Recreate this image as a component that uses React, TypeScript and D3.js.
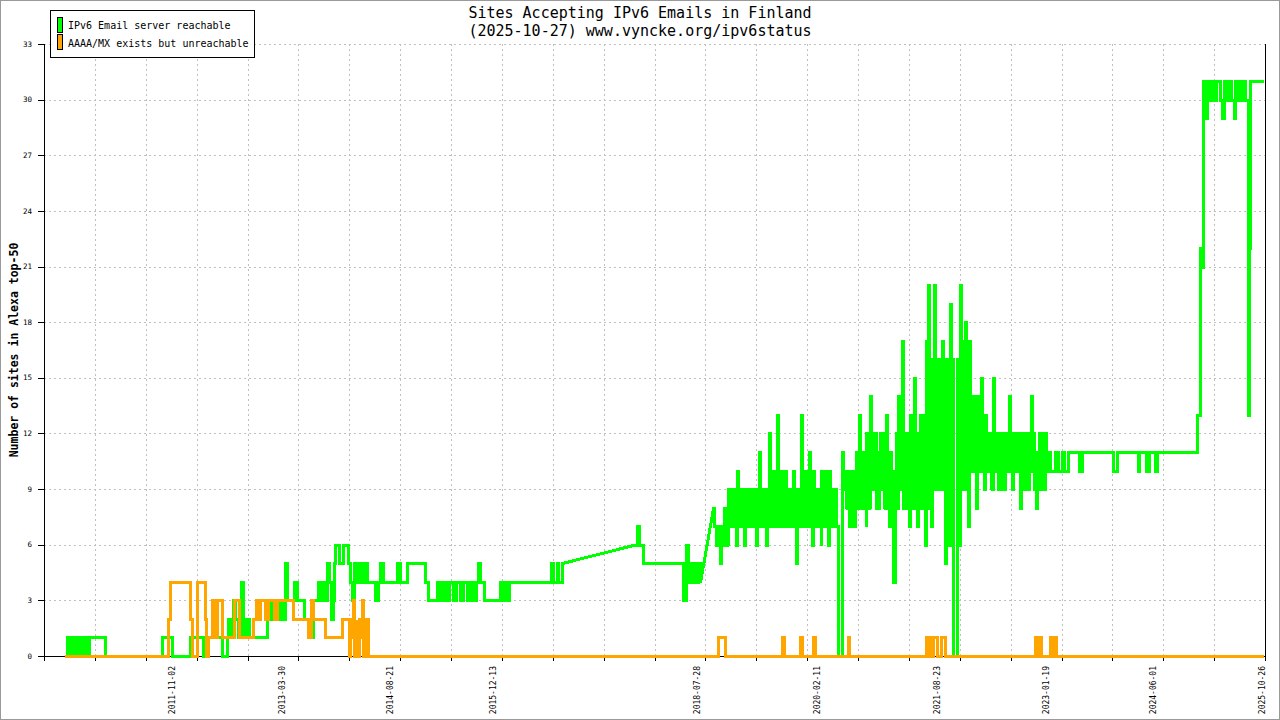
import React from "react";
import * as d3 from "d3";

// readings as [fractional year, sites]; a value holds until the next reading
const greenEarly: [number, number][] = [
  [2010.45, 0], [2010.49, 1], [2010.53, 0], [2010.56, 1], [2010.6, 0], [2010.62, 1], [2010.66, 0],
  [2010.68, 1], [2010.71, 0], [2010.73, 1], [2010.75, 0], [2010.77, 1], [2010.98, 0],
  [2011.71, 1], [2011.84, 0],
  [2012.07, 1], [2012.23, 0], [2012.27, 1], [2012.48, 0], [2012.54, 1], [2012.55, 2], [2012.59, 1],
  [2012.62, 3], [2012.64, 2], [2012.68, 1], [2012.72, 4], [2012.75, 1], [2012.785, 2], [2012.82, 1],
  [2013.055, 2], [2013.09, 3], [2013.13, 2], [2013.17, 3], [2013.21, 2], [2013.25, 3], [2013.27, 2],
  [2013.285, 5], [2013.31, 3], [2013.4, 4], [2013.44, 3], [2013.52, 2], [2013.58, 1], [2013.64, 3],
  [2013.71, 4], [2013.745, 3], [2013.77, 4], [2013.8, 3], [2013.82, 5], [2013.85, 4], [2013.87, 2],
  [2013.9, 3], [2013.91, 5], [2013.93, 6], [2013.97, 5],
  [2014.03, 6], [2014.09, 5], [2014.12, 4], [2014.145, 3], [2014.17, 5], [2014.21, 4], [2014.235, 5],
  [2014.275, 4], [2014.3, 5], [2014.34, 4], [2014.44, 3], [2014.48, 4], [2014.505, 5], [2014.545, 4],
  [2014.72, 5], [2014.76, 4], [2014.85, 5],
  [2015.08, 4], [2015.12, 3], [2015.235, 4], [2015.275, 3], [2015.31, 4], [2015.35, 3], [2015.39, 4],
  [2015.44, 3], [2015.48, 4], [2015.53, 3], [2015.57, 4], [2015.62, 3], [2015.66, 4], [2015.7, 3],
  [2015.73, 4], [2015.76, 5], [2015.79, 4], [2015.83, 3],
  [2016.04, 4], [2016.08, 3], [2016.11, 4], [2016.135, 3], [2016.16, 4], [2016.69, 5], [2016.725, 4],
  [2016.765, 5], [2016.79, 4], [2016.84, 5],
];

const greenMid: [number, number][] = [
  [2017.75, 6], [2017.8, 7], [2017.825, 6], [2017.877, 5],
  [2018.39, 3], [2018.43, 6], [2018.455, 4], [2018.48, 5], [2018.505, 4], [2018.53, 5], [2018.56, 4],
  [2018.58, 5], [2018.61, 4],
];

// busy years: the count swings daily, so each window holds [year, low, high]
const greenBand2019: [number, number, number][] = [
  [2018.77, 7, 8], [2018.795, 6, 7], [2018.82, 6, 7], [2018.85, 5, 7], [2018.87, 6, 7], [2018.9, 6, 7],
  [2018.92, 6, 8], [2018.95, 6, 7], [2018.97, 7, 9],
  [2019.01, 7, 9], [2019.03, 7, 9], [2019.06, 6, 9], [2019.08, 7, 10], [2019.11, 7, 9], [2019.135, 7, 9],
  [2019.16, 6, 9], [2019.185, 7, 9], [2019.21, 7, 9], [2019.24, 7, 9], [2019.26, 7, 9], [2019.29, 7, 9],
  [2019.31, 6, 9], [2019.34, 7, 9], [2019.365, 7, 11], [2019.39, 7, 9], [2019.415, 7, 9], [2019.44, 6, 9],
  [2019.47, 7, 9], [2019.49, 8, 12], [2019.52, 7, 9], [2019.54, 7, 10], [2019.57, 7, 9], [2019.6, 8, 13],
  [2019.62, 7, 9], [2019.65, 7, 10], [2019.67, 7, 9], [2019.7, 7, 10], [2019.72, 7, 9], [2019.75, 7, 9],
  [2019.78, 7, 9], [2019.8, 7, 10], [2019.83, 5, 9], [2019.85, 7, 9], [2019.88, 7, 9], [2019.9, 8, 13],
  [2019.93, 7, 9], [2019.955, 7, 10], [2019.98, 7, 9],
];

const greenBand2020: [number, number, number][] = [
  [2020.01, 7, 11], [2020.03, 6, 9], [2020.06, 7, 10], [2020.085, 7, 9], [2020.11, 7, 9], [2020.14, 6, 9],
  [2020.16, 7, 10], [2020.19, 7, 9], [2020.21, 7, 10], [2020.24, 6, 9], [2020.265, 7, 10], [2020.29, 7, 9],
  [2020.32, 7, 9], [2020.34, 7, 9], [2020.38, 0, 0], [2020.43, 9, 11], [2020.46, 8, 10], [2020.48, 8, 10],
  [2020.51, 7, 10], [2020.535, 8, 10], [2020.56, 7, 10], [2020.59, 8, 10], [2020.61, 8, 11], [2020.64, 9, 13],
  [2020.66, 8, 11], [2020.69, 8, 11], [2020.72, 7, 11], [2020.74, 8, 12], [2020.77, 8, 11], [2020.79, 9, 14],
  [2020.82, 9, 12], [2020.845, 8, 12], [2020.87, 8, 11], [2020.9, 9, 11], [2020.92, 9, 12], [2020.95, 8, 12],
  [2020.97, 8, 11], [2020.995, 9, 13],
];

const greenBand2021: [number, number, number][] = [
  [2021.02, 7, 11], [2021.045, 8, 11], [2021.07, 4, 10], [2021.1, 8, 10], [2021.12, 8, 12], [2021.15, 9, 14],
  [2021.17, 9, 12], [2021.2, 8, 17], [2021.225, 8, 12], [2021.25, 9, 12], [2021.275, 7, 12], [2021.3, 8, 13],
  [2021.33, 8, 12], [2021.35, 9, 15], [2021.38, 7, 12], [2021.4, 9, 12], [2021.43, 8, 13], [2021.455, 9, 13],
  [2021.48, 6, 12], [2021.505, 9, 17], [2021.53, 8, 20], [2021.555, 7, 15], [2021.58, 9, 16], [2021.61, 9, 20],
  [2021.63, 9, 16], [2021.66, 9, 16], [2021.68, 10, 15], [2021.71, 9, 17], [2021.735, 5, 16], [2021.76, 9, 16],
  [2021.79, 6, 15], [2021.81, 9, 19], [2021.84, 9, 16], [2021.855, 0, 0], [2021.9, 10, 16], [2021.92, 6, 16],
  [2021.945, 9, 20], [2021.97, 9, 17],
];

const greenBand2022: [number, number, number][] = [
  [2022.01, 10, 18], [2022.03, 7, 15], [2022.06, 10, 17], [2022.085, 10, 14], [2022.11, 10, 14],
  [2022.135, 8, 13], [2022.16, 10, 14], [2022.19, 10, 13], [2022.21, 10, 15], [2022.24, 9, 13],
  [2022.26, 10, 13], [2022.29, 10, 12], [2022.32, 9, 12], [2022.34, 9, 12], [2022.37, 10, 15],
  [2022.39, 10, 12], [2022.42, 9, 12], [2022.44, 9, 12], [2022.47, 9, 11], [2022.495, 9, 12],
  [2022.52, 10, 12], [2022.55, 10, 12], [2022.57, 10, 14], [2022.6, 9, 12], [2022.62, 10, 12],
  [2022.65, 10, 12], [2022.67, 10, 12], [2022.7, 8, 12], [2022.72, 10, 12], [2022.75, 9, 12],
  [2022.78, 9, 11], [2022.8, 9, 12], [2022.83, 10, 12], [2022.85, 10, 14], [2022.88, 9, 12],
  [2022.9, 8, 11], [2022.93, 9, 11], [2022.96, 9, 12], [2022.98, 10, 12], [2023.01, 9, 12],
  [2023.035, 10, 12],
];

const greenLate: [number, number][] = [
  [2023.06, 11], [2023.1, 10], [2023.16, 11], [2023.2, 10], [2023.25, 11],
  [2023.28, 10], [2023.32, 11], [2023.47, 10], [2023.51, 11], [2023.91, 10], [2023.95, 11],
  [2024.22, 10], [2024.24, 11], [2024.33, 10], [2024.36, 11], [2024.44, 10], [2024.47, 11],
  [2024.985, 13], [2025.02, 22], [2025.035, 21], [2025.05, 22], [2025.06, 31], [2025.09, 29], [2025.11, 31],
  [2025.14, 30], [2025.165, 31], [2025.19, 30], [2025.22, 31], [2025.28, 30], [2025.3, 29], [2025.33, 31],
  [2025.36, 30], [2025.38, 31], [2025.42, 30], [2025.45, 29], [2025.47, 31], [2025.5, 30], [2025.52, 31],
  [2025.55, 30], [2025.575, 31], [2025.6, 30], [2025.63, 22], [2025.64, 13], [2025.65, 22], [2025.665, 31],
  [2025.82, 31],
];

// no data after these readings: the graph joins straight to the next one
const greenGaps = [2016.84, 2018.61];

const orangeSteps: [number, number][] = [
  [2010.45, 0], [2011.785, 2], [2011.81, 4], [2012.07, 2], [2012.09, 0], [2012.155, 4], [2012.26, 2],
  [2012.27, 0], [2012.3, 1], [2012.35, 3], [2012.375, 1], [2012.41, 3], [2012.48, 1], [2012.63, 3],
  [2012.69, 1], [2012.87, 2], [2012.91, 3], [2012.94, 2], [2012.965, 3], [2013.03, 2], [2013.07, 3],
  [2013.145, 2], [2013.18, 3], [2013.38, 2], [2013.58, 1], [2013.62, 3], [2013.645, 2], [2013.8, 1],
  [2014.02, 2], [2014.1, 0], [2014.12, 2], [2014.13, 1], [2014.16, 3], [2014.17, 0], [2014.2, 2],
  [2014.21, 0], [2014.235, 2], [2014.25, 1], [2014.275, 3], [2014.285, 0], [2014.31, 2], [2014.35, 0],
  [2018.84, 1], [2018.93, 0], [2019.66, 1], [2019.69, 0], [2019.89, 1], [2019.92, 0], [2020.06, 1],
  [2020.085, 0], [2020.5, 1], [2020.52, 0],
  [2021.51, 1], [2021.53, 0], [2021.545, 1], [2021.57, 0], [2021.6, 1], [2021.65, 0], [2021.69, 1],
  [2021.75, 0], [2022.9, 1], [2022.93, 0], [2022.95, 1], [2022.98, 0], [2023.1, 1], [2023.12, 0],
  [2023.14, 1], [2023.17, 0], [2025.82, 0],
];

const dateLabels = [
  "2011-11-02", "2013-03-30", "2014-08-21", "2015-12-13", "2018-07-28",
  "2020-02-11", "2021-08-23", "2023-01-19", "2024-06-01", "2025-10-26",
];
const yTickValues = d3.range(0, 34, 3);
const legendItems = [
  { label: "IPv6 Email server reachable", color: "#00ff00" },
  { label: "AAAA/MX exists but unreachable", color: "#ffa500" },
];

const mono = "'DejaVu Sans Mono', monospace";

function toDate(yr: number) {
  const y = Math.floor(yr);
  const s = Date.UTC(y, 0, 1);
  const e = Date.UTC(y + 1, 0, 1);
  return new Date(s + (yr - y) * (e - s));
}

// a window swings high then low within its ~2px slot
function bandSteps(band: [number, number, number][]) {
  return band.flatMap(([t, lo, hi]) =>
    lo === hi ? [[t, lo] as [number, number]] : [[t, hi] as [number, number], [t + 0.0125, lo] as [number, number]]
  );
}

// step-after points, except straight joins across data gaps
function expand(steps: [number, number][], gaps: number[]) {
  const pts: [number, number][] = [];
  steps.forEach(([t, v], i) => {
    if (i > 0) {
      const [pt, pv] = steps[i - 1];
      if (!gaps.includes(pt)) pts.push([t, pv]);
    }
    pts.push([t, v]);
  });
  return pts;
}

export default function App() {
  const width = 1280;
  const height = 720;
  const left = 44, right = 1265, top = 44, bottom = 656;

  const d0 = new Date("2010-03-12");
  const d1 = new Date("2025-11-08");
  const x = d3.scaleTime().domain([d0, d1]).range([left, right]);
  const y = d3.scaleLinear().domain([0, 33]).range([bottom, top]);

  const xTicks = d3.range(25).map((i) => new Date(+d0 + (i * (+d1 - +d0)) / 24));
  const cx = (d: Date) => Math.round(x(d)) + 0.5;
  const cy = (v: number) => Math.round(y(v)) + 0.5;

  const line = d3
    .line<[number, number]>()
    .x((d) => Math.round(x(toDate(d[0]))) + 0.5)
    .y((d) => Math.round(y(d[1])) + 0.5);

  const green = expand(
    [
      ...greenEarly,
      ...greenMid,
      ...bandSteps(greenBand2019),
      ...bandSteps(greenBand2020),
      ...bandSteps(greenBand2021),
      ...bandSteps(greenBand2022),
      ...greenLate,
    ],
    greenGaps
  );
  const orange = expand(orangeSteps, []);

  return (
    <div>
      <style>{`body{margin:0}`}</style>
      <svg width={width} height={height} style={{ display: "block" }}>
        <rect x={0.5} y={0.5} width={width - 1} height={height - 1} fill="#fff" stroke="#999" />

        {/* grid */}
        <g stroke="#c0c0c0" strokeDasharray="2,3" shapeRendering="crispEdges">
          {yTickValues.filter((v) => v > 0).map((v) => (
            <line key={v} x1={left} x2={right} y1={cy(v)} y2={cy(v)} />
          ))}
          {xTicks.slice(1, -1).map((t, i) => (
            <line key={i} x1={cx(t)} x2={cx(t)} y1={top} y2={bottom} />
          ))}
        </g>

        {/* axes */}
        <g stroke="#000" shapeRendering="crispEdges">
          <line x1={left + 0.5} x2={left + 0.5} y1={top} y2={bottom} />
          <line x1={right + 0.5} x2={right + 0.5} y1={top} y2={bottom} />
          <line x1={left} x2={right + 1} y1={bottom + 0.5} y2={bottom + 0.5} />
          {yTickValues.map((v) => (
            <line key={v} x1={left - 6} x2={left} y1={cy(v)} y2={cy(v)} />
          ))}
          {xTicks.map((t, i) => (
            <line key={i} x1={cx(t)} x2={cx(t)} y1={bottom} y2={bottom + 5} />
          ))}
        </g>

        <g fontFamily={mono} fontSize={7.5} fill="#000">
          {yTickValues.map((v) => (
            <text key={v} x={32} y={y(v)} dy="0.35em" textAnchor="end">{v}</text>
          ))}
        </g>
        <g fontFamily={mono} fontSize={8} fill="#000">
          {dateLabels.map((s) => (
            <text
              key={s}
              transform={`translate(${x(new Date(s))},666) rotate(-90)`}
              dy="0.35em"
              textAnchor="end"
            >
              {s}
            </text>
          ))}
        </g>

        <text
          transform={`translate(18,${(top + bottom) / 2}) rotate(-90)`}
          textAnchor="middle"
          fontFamily={mono}
          fontSize={11.5}
          fontWeight="bold"
        >
          Number of sites in Alexa top-50
        </text>

        {/* series */}
        <g fill="none" strokeWidth={3} strokeLinejoin="miter" shapeRendering="crispEdges">
          <path d={line(green) ?? ""} stroke="#00ff00" />
          <path d={line(orange) ?? ""} stroke="#ffa500" />
        </g>

        {/* title */}
        <g fontFamily={mono} fontSize={15} textAnchor="middle" fill="#000">
          <text x={640} y={18}>Sites Accepting IPv6 Emails in Finland</text>
          <text x={640} y={36}>(2025-10-27) www.vyncke.org/ipv6status</text>
        </g>

        {/* legend */}
        <g>
          <rect x={50.5} y={10.5} width={204} height={47} fill="#fff" stroke="#000" shapeRendering="crispEdges" />
          {legendItems.map((d, i) => (
            <g key={d.label}>
              <rect
                x={57.5}
                y={17.5 + i * 17}
                width={5}
                height={15}
                fill={d.color}
                stroke="#000"
                shapeRendering="crispEdges"
              />
              <text x={68} y={29 + i * 17.5} fontFamily={mono} fontSize={10} fill="#000">
                {d.label}
              </text>
            </g>
          ))}
        </g>
      </svg>
    </div>
  );
}
